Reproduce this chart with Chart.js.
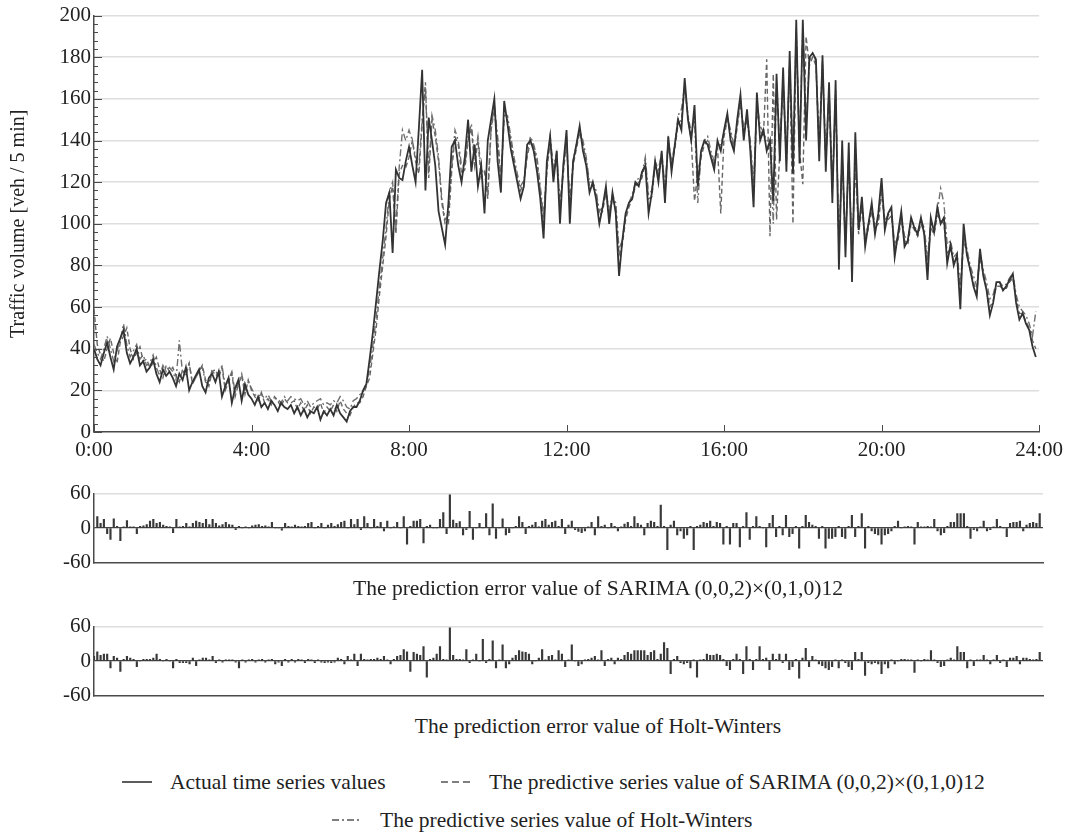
<!DOCTYPE html>
<html>
<head>
<meta charset="utf-8">
<script src="https://cdn.jsdelivr.net/npm/chart.js@4.4.1/dist/chart.umd.min.js"></script>
<style>
  body { margin: 0; background: #fff; }
  #wrap { position: relative; width: 1069px; height: 836px; font-family: "Liberation Serif", serif; color: #222; }
  canvas { position: absolute; left: 0; }
  .cap { position: absolute; left: 0; width: 1196px; text-align: center; font-size: 21.5px; line-height: 24px; white-space: nowrap; }
  .leg { position: absolute; font-size: 21.5px; line-height: 24px; white-space: nowrap; display: flex; align-items: center; }
  .leg svg { margin-right: 18px; }
</style>
</head>
<body>
<div id="wrap">
  <canvas id="mainChart" width="1069" height="470" style="top:0"></canvas>
  <canvas id="errSarima" width="1069" height="100" style="top:478px"></canvas>
  <div class="cap" style="top:576px">The prediction error value of SARIMA (0,0,2)×(0,1,0)12</div>
  <canvas id="errHw" width="1069" height="100" style="top:611px"></canvas>
  <div class="cap" style="top:714px">The prediction error value of Holt-Winters</div>

  <div class="leg" style="left:122px; top:770px">
    <svg width="30" height="6"><line x1="0" y1="3" x2="30" y2="3" stroke="#333" stroke-width="1.6"/></svg>
    Actual time series values
  </div>
  <div class="leg" style="left:441px; top:770px">
    <svg width="30" height="6"><line x1="0" y1="3" x2="30" y2="3" stroke="#555" stroke-width="1.4" stroke-dasharray="7,4"/></svg>
    The predictive series value of SARIMA (0,0,2)×(0,1,0)12
  </div>
  <div class="leg" style="left:332px; top:808px">
    <svg width="30" height="6"><line x1="0" y1="3" x2="30" y2="3" stroke="#555" stroke-width="1.4" stroke-dasharray="7,3,2,3"/></svg>
    The predictive series value of Holt-Winters
  </div>
</div>

<script>
// 5-minute samples, one row per hour (0:00 ... 23:55)
var actual = [
  40,35,32,38,43,36,30,41,45,49,38,33,
  36,40,32,34,29,31,35,28,24,30,27,29,
  26,22,28,25,31,20,24,27,30,22,19,26,
  28,24,29,17,22,26,14,21,25,15,23,18,
  16,13,17,12,14,11,15,13,10,14,12,11,
  13,9,12,8,11,7,10,9,12,6,10,8,
  11,8,13,9,7,5,10,12,12,15,20,23,
  35,48,63,78,92,110,115,86,126,122,121,130,
  137,128,120,146,174,116,151,140,128,106,98,90,
  110,137,140,128,120,132,150,125,138,118,128,105,
  140,150,160,130,115,159,148,136,128,120,112,118,
  138,140,135,125,112,93,130,142,120,135,100,128,
  145,100,130,138,147,135,128,115,120,112,100,108,
  118,100,115,105,75,92,105,110,112,120,118,125,
  128,105,115,130,120,135,110,142,125,138,150,145,
  170,150,140,157,118,135,140,138,132,126,140,135,
  145,153,140,135,150,162,140,155,135,108,163,140,
  145,135,140,111,172,130,175,125,183,124,198,129,
  198,140,180,182,179,130,181,125,168,110,169,78,
  140,84,139,72,144,97,113,89,100,110,95,105,
  122,97,105,108,84,95,106,89,92,103,98,95,
  103,95,73,103,96,108,100,103,81,90,80,85,
  59,100,85,78,70,65,88,75,68,56,62,72,
  72,68,70,73,76,62,54,57,52,49,41,36
];

var sarimaPred = [
  59,42,37,34,40,45,38,33,43,46,50,40,
  35,38,41,34,35,31,33,36,30,26,32,29,
  31,27,24,30,27,33,23,26,29,32,25,22,
  29,30,26,31,20,24,28,17,23,27,18,25,
  20,17,15,19,14,16,13,17,15,12,16,14,
  14,15,11,14,10,13,9,12,11,14,9,12,
  10,13,10,15,11,9,8,12,14,14,17,22,
  26,38,50,66,80,94,112,118,95,124,128,127,
  132,140,130,124,148,168,122,150,142,130,110,100,
  100,125,142,138,124,126,140,146,128,140,122,125,
  112,145,155,140,120,150,150,140,130,122,116,120,
  132,140,137,130,116,100,125,140,125,132,108,124,
  140,108,128,136,144,138,130,118,118,114,104,106,
  115,104,112,108,85,90,102,108,112,118,120,122,
  130,112,113,128,124,132,115,138,128,136,148,150,
  165,152,140,111,125,132,138,140,133,128,137,105,
  142,150,143,136,146,158,143,150,138,115,155,145,
  142,179,94,172,102,135,168,130,176,100,191,135,
  119,190,176,180,176,135,176,130,162,115,162,88,
  130,90,132,85,128,95,108,92,98,106,98,100,
  115,100,102,104,88,92,102,92,90,100,97,94,
  100,96,80,98,95,104,102,100,86,88,82,84,
  66,92,86,78,72,67,84,76,69,60,63,70,
  70,69,69,72,74,64,57,57,53,50,44,40
];

var hwPred = [
  42,38,35,40,46,40,34,39,44,52,42,36,
  39,42,35,37,32,33,37,31,27,32,29,31,
  29,25,44,28,30,33,24,26,30,31,24,23,
  30,27,28,32,22,25,29,19,24,28,20,24,
  21,18,17,18,16,18,15,16,16,14,17,15,
  17,16,15,16,13,15,12,14,15,16,13,14,
  13,15,14,17,15,12,11,15,16,18,19,24,
  30,42,55,70,84,98,115,120,98,127,145,140,
  145,140,132,128,150,165,125,152,145,132,112,102,
  104,128,145,140,128,128,142,148,132,142,125,126,
  116,146,157,142,122,152,152,142,132,124,118,121,
  134,142,138,132,118,104,127,142,127,134,110,126,
  142,110,130,138,145,140,132,120,120,116,106,108,
  116,106,114,110,88,92,104,110,114,120,122,124,
  132,114,116,130,126,134,118,140,130,138,152,155,
  166,152,144,150,110,134,140,142,135,130,138,138,
  144,151,145,138,148,160,145,152,140,120,158,147,
  144,140,140,100,168,137,170,132,178,130,192,137,
  194,148,178,182,178,138,178,132,164,118,164,92,
  132,92,134,88,130,98,110,94,100,108,100,102,
  116,102,104,106,90,94,104,94,92,102,99,96,
  102,98,84,100,98,106,117,110,90,92,84,86,
  70,94,88,80,75,70,86,78,72,64,66,72,
  72,70,71,74,76,66,60,58,56,52,46,58
];

var sarimaErr = [
  0,20,8,15,-10,-20,16,3,-22,2,13,2,
  2,-10,3,4,6,12,15,8,10,5,3,2,
  -8,15,2,3,8,2,8,12,10,8,15,6,
  15,8,4,6,10,6,5,-3,3,0,2,0,
  4,5,6,3,4,2,10,0,0,-4,8,3,
  2,5,3,2,3,8,10,0,3,8,0,5,
  8,3,6,10,12,0,15,6,15,-3,20,8,
  0,15,3,10,-5,12,0,2,10,0,20,-28,
  3,12,12,15,-26,3,5,0,0,15,27,-10,
  58,14,8,11,-12,-3,29,-20,0,8,0,25,
  -12,42,-18,0,16,-12,-8,0,3,20,10,-10,
  3,5,10,2,12,15,5,10,12,3,15,-10,
  5,12,-3,-6,-8,-5,2,10,-12,20,3,5,
  0,8,3,-5,2,7,10,3,20,8,5,-12,
  8,12,10,3,40,3,-38,5,12,-12,-5,-18,
  -12,3,-38,3,5,10,8,12,3,10,8,-28,
  3,-28,8,8,-33,3,27,-20,3,20,3,0,
  -33,8,22,-15,3,-12,22,-15,-10,3,-35,3,
  22,10,5,3,-18,3,-35,-18,-18,-15,3,-15,
  -18,3,22,-15,3,25,-35,3,-5,-10,-12,-28,
  -12,-10,-5,3,12,0,2,3,2,-28,10,2,
  2,3,2,15,-5,-12,-8,3,10,10,25,25,
  25,3,-18,-3,-5,2,12,-5,-3,2,15,3,
  0,-15,8,10,10,12,-5,5,8,10,8,25
];

var hwErr = [
  8,16,10,12,12,-12,8,5,-18,3,8,5,
  3,-10,0,3,3,3,5,12,3,0,3,0,
  -12,3,-3,-3,-3,-5,5,-8,2,5,5,2,
  8,-3,2,-2,2,2,2,-2,-12,2,-2,2,
  3,-2,2,3,-2,2,3,-5,-2,-8,3,-2,
  3,-2,3,2,-3,3,2,-3,2,-2,-3,-2,
  -3,-2,5,3,-5,8,2,12,-8,12,3,2,
  3,3,5,3,8,2,-5,3,8,10,20,16,
  -18,15,12,10,25,-28,3,5,12,25,3,2,
  58,10,3,3,2,20,-3,2,12,0,38,-3,
  3,35,-12,2,28,-12,-5,5,10,18,16,15,
  12,-5,0,5,20,2,8,10,2,18,12,-10,
  2,28,0,-8,-5,2,3,5,8,2,18,-8,
  3,5,-5,5,3,10,15,12,18,18,18,18,
  10,15,18,3,12,32,22,-22,3,8,-3,-5,
  -3,-12,2,-28,2,3,12,10,10,12,10,3,
  -8,-15,3,12,3,-22,25,3,-15,3,25,3,
  5,-15,12,3,12,-3,12,-15,-10,3,-30,5,
  22,-10,8,2,-5,-8,-12,-15,-10,2,-12,2,
  -3,-10,-15,15,3,15,-25,-3,-5,-3,-5,-22,
  -5,-12,2,-5,0,3,3,2,2,-20,2,0,
  3,2,18,2,-3,-10,-8,2,5,2,25,15,
  15,-12,2,-8,2,2,10,2,-5,2,10,-3,
  2,-10,5,5,8,-5,5,5,3,2,3,15
];

var timeLabels = ['0:00', '4:00', '8:00', '12:00', '16:00', '20:00', '24:00'];
var errTicks = [-60, -30, 0, 30, 60];

var FONT = "'Liberation Serif', 'Times New Roman', Times, serif";
var AXIS = '#4a4a4a';
var GRID = '#dedede';

Chart.defaults.font.family = FONT;
Chart.defaults.color = '#222';

// turn a 5-min series into {x: minutes, y} points
function toPoints(arr) {
    return arr.map(function (v, i) { return { x: i * 5, y: v }; });
}

// small tick marks drawn inside the plot, like the original figure
var innerTicks = {
    id: 'innerTicks',
    afterDraw: function (chart, args, opts) {
        var ctx = chart.ctx, xs = chart.scales.x, ys = chart.scales.y;
        ctx.save();
        ctx.strokeStyle = AXIS;
        ctx.lineWidth = 1;
        if (opts.yMinor) {
            for (var v = ys.min; v <= ys.max + 0.01; v += opts.yMinor) {
                var py = Math.round(ys.getPixelForValue(v)) + 0.5;
                var len = (v % opts.yMajor === 0) ? 8 : 4;
                ctx.beginPath();
                ctx.moveTo(xs.left, py);
                ctx.lineTo(xs.left + len, py);
                ctx.stroke();
            }
        }
        if (opts.xMajor) {
            for (var t = xs.min; t <= xs.max; t += opts.xMajor) {
                var px = Math.round(xs.getPixelForValue(t)) + 0.5;
                ctx.beginPath();
                ctx.moveTo(px, ys.bottom);
                ctx.lineTo(px, ys.bottom - 7);
                ctx.stroke();
            }
        }
        ctx.restore();
    }
};

function createMainChart() {
    var ctx = document.getElementById('mainChart').getContext('2d');
    new Chart(ctx, {
        type: 'line',
        data: {
            datasets: [{
                label: 'Actual time series values',
                data: toPoints(actual),
                borderColor: '#333',
                borderWidth: 1.8,
                order: 0
            }, {
                label: 'The predictive series value of SARIMA (0,0,2)×(0,1,0)12',
                data: toPoints(sarimaPred),
                borderColor: '#666',
                borderWidth: 1.4,
                borderDash: [5, 3],
                order: 1
            }, {
                label: 'The predictive series value of Holt-Winters',
                data: toPoints(hwPred),
                borderColor: '#707070',
                borderWidth: 1.4,
                borderDash: [7, 3, 2, 3],
                order: 2
            }]
        },
        plugins: [innerTicks],
        options: {
            responsive: false,
            animation: false,
            devicePixelRatio: 1,
            layout: { padding: { top: 15, right: 26, left: 0, bottom: 0 } },
            elements: { point: { radius: 0 }, line: { tension: 0 } },
            plugins: {
                legend: { display: false },
                tooltip: { enabled: false },
                innerTicks: { yMinor: 4, yMajor: 20, xMajor: 240 }
            },
            scales: {
                x: {
                    type: 'linear',
                    min: 0,
                    max: 1440,
                    afterFit: function (s) { s.height = 38; },
                    ticks: {
                        stepSize: 240,
                        autoSkip: false,
                        maxRotation: 0,
                        padding: 6,
                        color: '#222',
                        font: { family: FONT, size: 21 },
                        callback: function (v) { return timeLabels[v / 240]; }
                    },
                    grid: { color: 'rgba(0,0,0,0)', drawTicks: false },
                    border: { color: AXIS, width: 1.5 }
                },
                y: {
                    min: 0,
                    max: 200,
                    afterFit: function (s) { s.width = 94; },
                    ticks: {
                        stepSize: 20,
                        padding: 3,
                        color: '#222',
                        font: { family: FONT, size: 21 }
                    },
                    grid: {
                        drawTicks: false,
                        color: function (c) { return c.tick && c.tick.value === 0 ? 'rgba(0,0,0,0)' : GRID; },
                        lineWidth: 1.5
                    },
                    border: { color: AXIS, width: 1.5 },
                    title: {
                        display: true,
                        text: 'Traffic volume [veh / 5 min]',
                        color: '#222',
                        font: { family: FONT, size: 20 },
                        padding: { top: 7, bottom: 0 }
                    }
                }
            }
        }
    });
}

function createErrorChart(canvasId, values, labelName) {
    var ctx = document.getElementById(canvasId).getContext('2d');
    new Chart(ctx, {
        type: 'bar',
        data: {
            datasets: [{
                label: labelName,
                data: toPoints(values),
                backgroundColor: '#383838',
                barThickness: 1.5
            }]
        },
        options: {
            responsive: false,
            animation: false,
            devicePixelRatio: 1,
            layout: { padding: { top: 10, right: 26, left: 0, bottom: 0 } },
            plugins: { legend: { display: false }, tooltip: { enabled: false } },
            scales: {
                x: {
                    type: 'linear',
                    min: 0,
                    max: 1440,
                    offset: false,
                    afterFit: function (s) { s.height = 7; },
                    ticks: { display: false },
                    grid: { color: 'rgba(0,0,0,0)', drawTicks: false },
                    border: { color: AXIS, width: 1.5 }
                },
                y: {
                    min: -60,
                    max: 60,
                    afterFit: function (s) { s.width = 94; },
                    afterBuildTicks: function (s) {
                        s.ticks = errTicks.map(function (v) { return { value: v }; });
                    },
                    ticks: {
                        padding: 3,
                        color: '#222',
                        font: { family: FONT, size: 21 }
                    },
                    grid: {
                        drawTicks: false,
                        color: function (c) {
                            if (!c.tick) return GRID;
                            if (c.tick.value === 0) return '#444';
                            if (c.tick.value === -60) return 'rgba(0,0,0,0)';
                            return GRID;
                        },
                        lineWidth: function (c) { return c.tick && c.tick.value === 0 ? 1.2 : 1.5; }
                    },
                    border: { color: AXIS, width: 1.5 }
                }
            }
        }
    });
}

function drawAll() {
    createMainChart();
    createErrorChart('errSarima', sarimaErr, 'SARIMA error');
    createErrorChart('errHw', hwErr, 'Holt-Winters error');
}

if (document.fonts && document.fonts.load) {
    document.fonts.load('21px "Liberation Serif"').then(drawAll, drawAll);
} else {
    drawAll();
}
</script>
</body>
</html>
